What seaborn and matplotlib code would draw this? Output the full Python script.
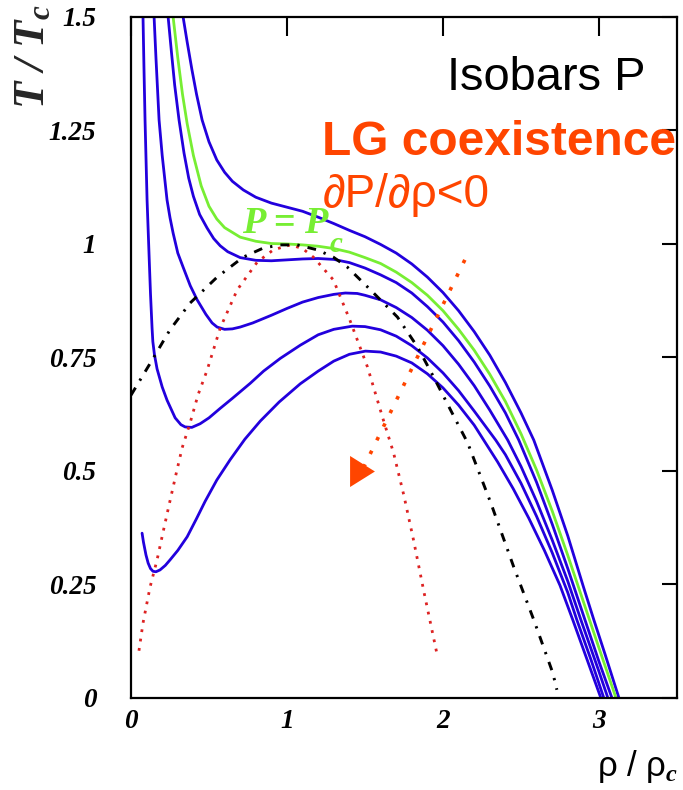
import matplotlib
matplotlib.use("Agg")
import matplotlib.pyplot as plt
from matplotlib.font_manager import FontProperties
from matplotlib.ticker import FixedLocator
import seaborn as sns

sns.set_style("white")
plt.rcParams['font.family'] = ['Liberation Sans', 'DejaVu Sans']
plt.rcParams['mathtext.fontset'] = 'custom'
plt.rcParams['mathtext.it'] = 'Liberation Serif:italic:bold'
plt.rcParams['mathtext.rm'] = 'Liberation Serif:bold'
plt.rcParams['mathtext.bf'] = 'Liberation Serif:bold'

# ---- isobars T/Tc versus rho/rho_c (lowest pressure first) ----
iso1_rho = [0.071, 0.080, 0.096, 0.110, 0.125, 0.141, 0.160, 0.186, 0.220, 0.250,
            0.300, 0.360, 0.420, 0.475, 0.550, 0.636, 0.730, 0.829, 0.950, 1.085,
            1.200, 1.300, 1.400, 1.503, 1.600, 1.700, 1.800, 1.900, 2.000, 2.100,
            2.200, 2.261, 2.350, 2.450, 2.550, 2.650, 2.750, 2.832, 2.920, 3.012]
iso1_T = [0.363, 0.343, 0.315, 0.297, 0.285, 0.279, 0.278, 0.282, 0.292, 0.304,
          0.325, 0.355, 0.395, 0.433, 0.480, 0.525, 0.570, 0.610, 0.652, 0.692,
          0.720, 0.742, 0.757, 0.764, 0.762, 0.753, 0.738, 0.714, 0.683, 0.645,
          0.601, 0.568, 0.520, 0.461, 0.396, 0.325, 0.248, 0.172, 0.088, 0.0]

iso2_rho = [0.077, 0.083, 0.090, 0.103, 0.118, 0.125, 0.135, 0.140, 0.150, 0.167,
            0.200, 0.231, 0.283, 0.320, 0.347, 0.390, 0.443, 0.500, 0.572, 0.650,
            0.764, 0.850, 0.957, 1.085, 1.200, 1.300, 1.419, 1.500, 1.600, 1.700,
            1.800, 1.900, 2.000, 2.100, 2.200, 2.338, 2.400, 2.500, 2.600, 2.700,
            2.800, 2.858, 2.950, 3.031]
iso2_T = [1.500, 1.390, 1.273, 1.097, 0.955, 0.890, 0.815, 0.785, 0.757, 0.725,
          0.685, 0.656, 0.617, 0.602, 0.597, 0.596, 0.604, 0.617, 0.638, 0.660,
          0.693, 0.720, 0.748, 0.777, 0.800, 0.812, 0.819, 0.818, 0.811, 0.797,
          0.776, 0.749, 0.716, 0.677, 0.632, 0.568, 0.536, 0.473, 0.400, 0.320,
          0.232, 0.172, 0.083, 0.0]

iso3_rho = [0.148, 0.160, 0.180, 0.200, 0.231, 0.250, 0.270, 0.300, 0.334, 0.380,
            0.424, 0.480, 0.520, 0.552, 0.600, 0.650, 0.700, 0.780, 0.900, 1.000,
            1.100, 1.200, 1.300, 1.374, 1.450, 1.500, 1.600, 1.700, 1.800, 1.900,
            2.000, 2.100, 2.200, 2.300, 2.415, 2.500, 2.600, 2.700, 2.800, 2.884,
            3.000, 3.057]
iso3_T = [1.500, 1.410, 1.273, 1.195, 1.097, 1.058, 1.024, 0.980, 0.949, 0.908,
          0.877, 0.845, 0.826, 0.817, 0.812, 0.813, 0.817, 0.826, 0.843, 0.858,
          0.872, 0.882, 0.889, 0.892, 0.891, 0.887, 0.877, 0.860, 0.838, 0.810,
          0.776, 0.735, 0.688, 0.634, 0.568, 0.510, 0.433, 0.348, 0.257, 0.172,
          0.058, 0.0]

iso4_rho = [0.238, 0.260, 0.280, 0.308, 0.340, 0.370, 0.400, 0.440, 0.488, 0.530,
            0.572, 0.620, 0.700, 0.800, 0.900, 1.000, 1.100, 1.200, 1.300, 1.400,
            1.500, 1.600, 1.700, 1.800, 1.900, 2.000, 2.100, 2.200, 2.300, 2.400,
            2.486, 2.600, 2.700, 2.800, 2.910, 3.000, 3.083]
iso4_T = [1.500, 1.420, 1.350, 1.273, 1.200, 1.145, 1.105, 1.065, 1.035, 1.012,
          0.996, 0.983, 0.970, 0.964, 0.963, 0.965, 0.967, 0.968, 0.966, 0.959,
          0.947, 0.932, 0.915, 0.892, 0.862, 0.828, 0.787, 0.740, 0.687, 0.628,
          0.568, 0.475, 0.383, 0.285, 0.172, 0.080, 0.0]

crit_rho = [0.270, 0.300, 0.330, 0.360, 0.400, 0.450, 0.500, 0.550, 0.600, 0.700,
            0.800, 0.900, 1.000, 1.100, 1.200, 1.300, 1.400, 1.500, 1.600, 1.700,
            1.800, 1.900, 2.000, 2.100, 2.200, 2.300, 2.400, 2.500, 2.600, 2.700,
            2.800, 2.900, 3.000, 3.109]
crit_T = [1.500, 1.410, 1.330, 1.265, 1.195, 1.128, 1.083, 1.055, 1.036, 1.015,
          1.006, 1.001, 1.000, 0.998, 0.995, 0.990, 0.982, 0.970, 0.957, 0.938,
          0.915, 0.887, 0.853, 0.812, 0.766, 0.713, 0.653, 0.582, 0.502, 0.412,
          0.314, 0.212, 0.110, 0.0]

iso6_rho = [0.334, 0.360, 0.390, 0.420, 0.456, 0.500, 0.550, 0.600, 0.650, 0.720,
            0.800, 0.900, 1.000, 1.100, 1.200, 1.300, 1.400, 1.500, 1.600, 1.700,
            1.800, 1.900, 2.000, 2.100, 2.200, 2.300, 2.400, 2.500, 2.582, 2.700,
            2.800, 2.900, 2.967, 3.040, 3.128]
iso6_T = [1.500, 1.445, 1.385, 1.330, 1.273, 1.225, 1.185, 1.158, 1.138, 1.119,
          1.103, 1.090, 1.081, 1.072, 1.059, 1.045, 1.030, 1.016, 0.999, 0.980,
          0.956, 0.927, 0.893, 0.853, 0.807, 0.755, 0.695, 0.628, 0.568, 0.458,
          0.357, 0.245, 0.172, 0.095, 0.0]

# ---- spinodal (dotted red) ----
spin_rho = [0.051, 0.077, 0.122, 0.167, 0.206, 0.244, 0.290, 0.328, 0.379, 0.430,
            0.488, 0.572, 0.681, 0.809, 0.912, 1.021, 1.100, 1.169, 1.297, 1.400,
            1.516, 1.618, 1.683, 1.750, 1.811, 1.880, 1.959]
spin_T = [0.104, 0.165, 0.244, 0.304, 0.366, 0.425, 0.495, 0.551, 0.606, 0.668,
          0.722, 0.815, 0.899, 0.960, 0.987, 0.998, 0.990, 0.971, 0.921, 0.835,
          0.729, 0.612, 0.540, 0.445, 0.348, 0.230, 0.101]

# ---- coexistence curve (dash-dot black) ----
coex_rho = [0.0, 0.135, 0.250, 0.379, 0.552, 0.719, 0.848, 0.957, 1.066, 1.195,
            1.297, 1.387, 1.535, 1.708, 1.837, 1.940, 2.049, 2.158, 2.306, 2.453,
            2.582, 2.704, 2.730]
coex_T = [0.667, 0.744, 0.811, 0.870, 0.927, 0.971, 0.991, 0.998, 0.998, 0.987,
          0.971, 0.949, 0.899, 0.839, 0.773, 0.707, 0.634, 0.562, 0.430, 0.289,
          0.172, 0.055, 0.018]

# ---- arrow across the coexistence region ----
arrow_rho = [2.140, 1.480]
arrow_T = [0.965, 0.500]

x_ticks = [0, 1, 2, 3]
x_minor = [0.5, 1.5, 2.5]
x_ticklabels = ["0", "1", "2", "3"]
y_ticks = [0, 0.25, 0.5, 0.75, 1.0, 1.25, 1.5]
y_ticklabels = ["0", "0.25", "0.5", "0.75", "1", "1.25", "1.5"]

BLUE = "#2200dd"
GREEN = "#77ee33"
RED = "#dd2222"
ORANGE = "#ff4500"

fig = plt.figure(figsize=(6.83, 7.90), dpi=100)
ax = fig.add_axes([0.1918, 0.1165, 0.7994, 0.862])

line_kw = dict(ax=ax, sort=False, estimator=None, linewidth=2.0, legend=False,
               solid_joinstyle="round")
for r, t in [(iso1_rho, iso1_T), (iso2_rho, iso2_T), (iso3_rho, iso3_T),
             (iso4_rho, iso4_T), (iso6_rho, iso6_T)]:
    sns.lineplot(x=r, y=t, color=BLUE, **line_kw)
sns.lineplot(x=crit_rho, y=crit_T, color=GREEN, **line_kw)

sns.lineplot(x=spin_rho, y=spin_T, ax=ax, sort=False, estimator=None,
             color=RED, linewidth=2.0, linestyle=(0, (1, 2.4)), legend=False)
sns.lineplot(x=coex_rho, y=coex_T, ax=ax, sort=False, estimator=None,
             color="black", linewidth=2.1, linestyle=(0, (3, 2.8, 0.8, 2.8)),
             legend=False)
sns.lineplot(x=arrow_rho, y=arrow_T, ax=ax, sort=False, estimator=None,
             color=ORANGE, linewidth=2.6, linestyle=(0, (1, 3.2)), legend=False)
sns.scatterplot(x=arrow_rho[-1:], y=arrow_T[-1:], ax=ax, color=ORANGE,
                marker=[(-0.8, -1), (0.8, 0), (-0.8, 1)], s=500,
                linewidth=0, legend=False, zorder=5)

ax.set_xlim(0, 3.5)
ax.set_ylim(0, 1.5)
ax.xaxis.set_major_locator(FixedLocator(x_ticks))
ax.xaxis.set_minor_locator(FixedLocator(x_minor))
ax.yaxis.set_major_locator(FixedLocator(y_ticks))
ax.set_xticklabels(x_ticklabels)
ax.set_yticklabels(y_ticklabels)
ax.set_xlabel("")
ax.set_ylabel("")

tick_font = FontProperties(family="Liberation Serif", weight="bold",
                           style="italic", size=19.5)
for lab in ax.get_xticklabels() + ax.get_yticklabels():
    lab.set_fontproperties(tick_font)

ax.tick_params(direction="in", top=True, right=True, width=1.5, colors="black")
ax.tick_params(axis="x", which="major", length=14, pad=8)
ax.tick_params(axis="x", which="minor", length=8, width=1.5)
ax.tick_params(axis="y", which="major", length=11, pad=25)
for sp in ax.spines.values():
    sp.set_linewidth(1.6)
    sp.set_color("black")
    sp.set_visible(True)

# annotations
ax.text(3.301, 1.339, "Isobars P", ha="right", va="baseline",
        fontsize=33.8, color="black")
ax.text(1.227, 1.196, "LG coexistence", ha="left", va="baseline",
        fontsize=34.5, fontweight="bold", color=ORANGE)
ax.text(1.227, 1.081, "∂P/∂ρ<0", ha="left", va="baseline",
        fontsize=33, color=ORANGE)
serif_bi = dict(family="Liberation Serif", fontweight="bold", style="italic")
ax.text(0.712, 1.024, "P = P", ha="left", va="baseline", fontsize=27.5,
        color=GREEN, **serif_bi)
ax.text(1.272, 0.982, "c", ha="left", va="baseline", fontsize=21,
        color=GREEN, **serif_bi)

fig.text(33 / 683, 1 - 4 / 790, "T / T$_c$", rotation=90, ha="center", va="top",
         fontsize=32, **serif_bi)
fig.text(678 / 683, 14 / 790, "ρ / ρ$_c$", ha="right", va="baseline",
         fontsize=25, color="black")

fig.savefig("out.png", dpi=100)
